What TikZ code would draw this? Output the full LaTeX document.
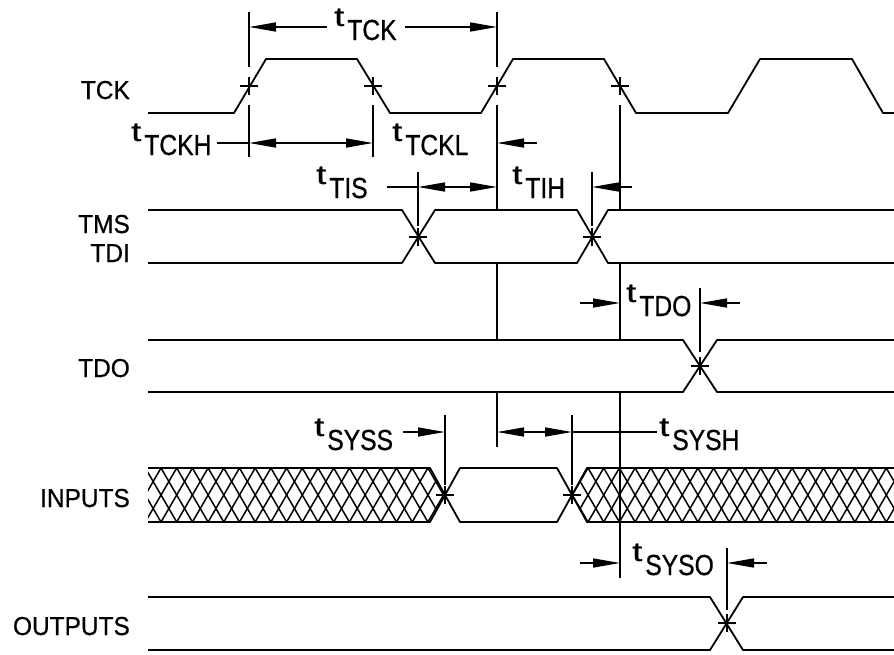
\documentclass[tikz,border=0pt]{standalone}
\usepackage{fontspec}
\usepackage{graphicx}
\setmainfont{Liberation Sans}
\newfontfamily\labfam[FakeStretch=0.94,FakeBold=0.6]{Liberation Sans}
\newfontfamily\subfam[FakeStretch=0.85,FakeBold=0.6]{Liberation Sans}
\newfontfamily\tfam[FakeBold=0.6]{Liberation Sans}
\usetikzlibrary{arrows.meta}
\newcommand\labfont{\labfam\fontsize{26}{26}\selectfont}
\newcommand\tsb[1]{\raisebox{14pt}{\tfam\fontsize{27}{27}\selectfont\scalebox{1.35}[1]{t}}\kern3pt{\subfam\fontsize{29}{29}\selectfont #1}}
\begin{document}
\begin{tikzpicture}[x=1pt,y=-1pt,
  sig/.style={line width=1.8pt, line join=round},
  ext/.style={line width=1.5pt},
  dim/.style={line width=1.5pt},
  hatch/.style={line width=1.5pt},
  arr/.style={-{Triangle[length=27pt,width=9pt]}},
  darr/.style={{Triangle[length=27pt,width=9pt]}-{Triangle[length=27pt,width=9pt]}},
  lab/.style={font=\labfont, anchor=base east, inner sep=0pt},
  tl/.style={anchor=base west, inner sep=0pt},
  mk/.pic={\draw[ext] (-9,0)--(9,0) (0,-9)--(0,9);}
]
\useasboundingbox (0,0) rectangle (894,654);

% ---------- signal labels
\node[lab] (lTCK) at (130,99) {TCK};
\node[lab] (lTMS) at (130,233) {TMS};
\node[lab] (lTDI) at (130,262) {TDI};
\node[lab] (lTDO) at (130,377) {TDO};
\node[lab] (lIN) at (130,507) {INPUTS};
\node[lab] (lOUT) at (130,635) {OUTPUTS};

% ---------- waveforms
\draw[sig] (148,113) -- (234,113) -- (266,59) -- (357,59) -- (390,113) -- (481,113) -- (513,59) -- (604,59) -- (636,113) -- (728,113) -- (760,59) -- (852,59) -- (883,113) -- (894,113);

\draw[sig] (148,210) -- (402,210) -- (435,263) -- (577,263) -- (608,210) -- (894,210);
\draw[sig] (148,263) -- (402,263) -- (435,210) -- (577,210) -- (608,263) -- (894,263);

\draw[sig] (148,340) -- (683,340) -- (717,392) -- (894,392);
\draw[sig] (148,392) -- (683,392) -- (717,340) -- (894,340);

\draw[sig] (148,468) -- (430,468) -- (460,522) -- (557,522) -- (587,468) -- (894,468);
\draw[sig] (148,522) -- (430,522) -- (460,468) -- (557,468) -- (587,522) -- (894,522);

\begin{scope}
\clip (148,468) -- (430,468) -- (445,495) -- (430,522) -- (148,522) -- cycle;
\foreach \k in {-3,...,20} {
  \pgfmathsetmacro\xt{161+\k*15.7}
  \draw[hatch] (\xt,468) -- ++(-31.4,54) (\xt,468) -- ++(31.4,54);
}
\end{scope}
\begin{scope}
\clip (894,468) -- (587,468) -- (572,495) -- (587,522) -- (894,522) -- cycle;
\foreach \k in {-3,...,22} {
  \pgfmathsetmacro\xt{588+\k*15.7}
  \draw[hatch] (\xt,468) -- ++(-31.4,54) (\xt,468) -- ++(31.4,54);
}
\end{scope}

\draw[sig] (148,597) -- (710,597) -- (743,650) -- (894,650);
\draw[sig] (148,650) -- (710,650) -- (743,597) -- (894,597);

% ---------- crossing markers
\foreach \p in {(249,86),(373,86),(497,86),(620,86),(418,237),(592,237),(700,366),(445,495),(572,495),(727,623)}
  \pic at \p {mk};

% ---------- extension lines
\draw[ext] (249,12) -- (249,67) (249,105) -- (249,157);
\draw[ext] (373,105) -- (373,157);
\draw[ext] (497,12) -- (497,67) (497,105) -- (497,210) (497,263) -- (497,340) (497,392) -- (497,447);
\draw[ext] (620,105) -- (620,210) (620,263) -- (620,340) (620,392) -- (620,578);
\draw[ext] (418,172) -- (418,226);
\draw[ext] (592,172) -- (592,226);
\draw[ext] (700,288) -- (700,352);
\draw[ext] (445,415) -- (445,485);
\draw[ext] (572,415) -- (572,485);
\draw[ext] (727,548) -- (727,610);

% ---------- timing labels
\node[tl] (tTCK) at (334,40) {\tsb{TCK}};
\node[tl] (tTCKH) at (131,155) {\tsb{TCKH}};
\node[tl] (tTCKL) at (392,155) {\tsb{TCKL}};
\node[tl] (tTIS) at (316,198) {\tsb{TIS}};
\node[tl] (tTIH) at (512,198) {\tsb{TIH}};
\node[tl] (tTDO) at (626,316) {\tsb{TDO}};
\node[tl] (tSYSS) at (314,450) {\tsb{SYSS}};
\node[tl] (tSYSH) at (659,450) {\tsb{SYSH}};
\node[tl] (tSYSO) at (632,575) {\tsb{SYSO}};

% ---------- dimension arrows
\draw[dim,arr] (327,27) -- (249,27);
\draw[dim,arr] (405,27) -- (497,27);

\draw[dim] (217,143) -- (249,143);
\draw[dim,darr] (249,143) -- (373,143);
\draw[dim,arr] (537,143) -- (497,143);

\draw[dim] (387,187) -- (418,187);
\draw[dim,darr] (418,187) -- (497,187);
\draw[dim,arr] (632,187) -- (592,187);

\draw[dim,arr] (580,303) -- (620,303);
\draw[dim,arr] (740,303) -- (700,303);

\draw[dim,arr] (403,432) -- (445,432);
\draw[dim,darr] (497,432) -- (572,432);
\draw[dim] (572,432) -- (657,432);

\draw[dim,arr] (580,563) -- (620,563);
\draw[dim,arr] (767,563) -- (727,563);
\end{tikzpicture}
\end{document}
